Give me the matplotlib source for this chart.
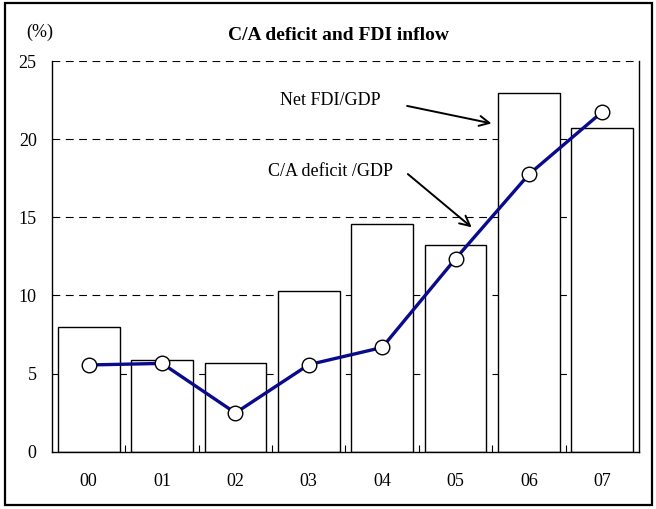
import matplotlib.pyplot as plt
from matplotlib.patches import Rectangle
import numpy as np

# datos
anios = ['00', '01', '02', '03', '04', '05', '06', '07']
ied_neta = [8.0, 5.9, 5.7, 10.3, 14.6, 13.2, 22.95, 20.7]      # Net FDI/GDP (barras)
deficit_cc = [5.55, 5.65, 2.48, 5.57, 6.67, 12.35, 17.75, 21.75]  # C/A deficit /GDP (linea)

plt.rcParams['font.family'] = ['Liberation Serif', 'DejaVu Serif']

fig = plt.figure(figsize=(6.56, 5.09), dpi=100)
ax = fig.add_axes([0.0793, 0.1126, 0.8947, 0.7674])

x = np.arange(len(anios))

# lineas de cuadricula punteadas
for yv in [5, 10, 15, 20, 25]:
    ax.axhline(yv, color='black', linestyle=(0, (7, 5)), linewidth=0.8, zorder=1)

ax.bar(x, ied_neta, width=0.84, color='white', edgecolor='black', linewidth=1.0, zorder=2)
ax.plot(x, deficit_cc, color='#0a0a8c', linewidth=2.4, marker='o', markersize=10.5,
        markerfacecolor='white', markeredgecolor='black', markeredgewidth=1.0, zorder=3)

ax.set_xlim(-0.5, len(anios) - 0.5)
ax.set_ylim(0, 25)
ax.set_yticks([0, 5, 10, 15, 20, 25])
ax.set_xticks(x)
ax.set_xticklabels(anios)
ax.set_xticks(np.arange(0.5, len(anios) - 1, 1), minor=True)
ax.tick_params(axis='x', which='major', length=0, pad=15, labelsize=13)
ax.tick_params(axis='x', which='minor', direction='in', length=5, width=0.8)
ax.tick_params(axis='y', length=0, pad=11, labelsize=13)
ax.spines['top'].set_visible(False)
for s in ['left', 'right', 'bottom']:
    ax.spines[s].set_linewidth(1.0)

# anotaciones
ax.text(3.29, 22.47, 'Net FDI/GDP', ha='center', va='center', fontsize=13)
ax.text(3.29, 17.96, 'C/A deficit /GDP', ha='center', va='center', fontsize=13)
flecha = dict(arrowstyle='->', color='black', lw=1.4, shrinkA=0, shrinkB=0, mutation_scale=18)
ax.annotate('', xy=(5.49, 21.01), xytext=(4.34, 22.13), arrowprops=flecha)
ax.annotate('', xy=(5.22, 14.36), xytext=(4.35, 17.77), arrowprops=flecha)

fig.text(0.516, 0.931, 'C/A deficit and FDI inflow', ha='center', va='center',
         fontsize=14, fontweight='bold')
fig.text(0.060, 0.937, '(%)', ha='center', va='center', fontsize=13)

# marco exterior
fig.patches.append(Rectangle((0.0076, 0.008), 0.9864, 0.986, transform=fig.transFigure,
                             fill=False, edgecolor='black', linewidth=1.6))

fig.savefig('out.png', dpi=100)
